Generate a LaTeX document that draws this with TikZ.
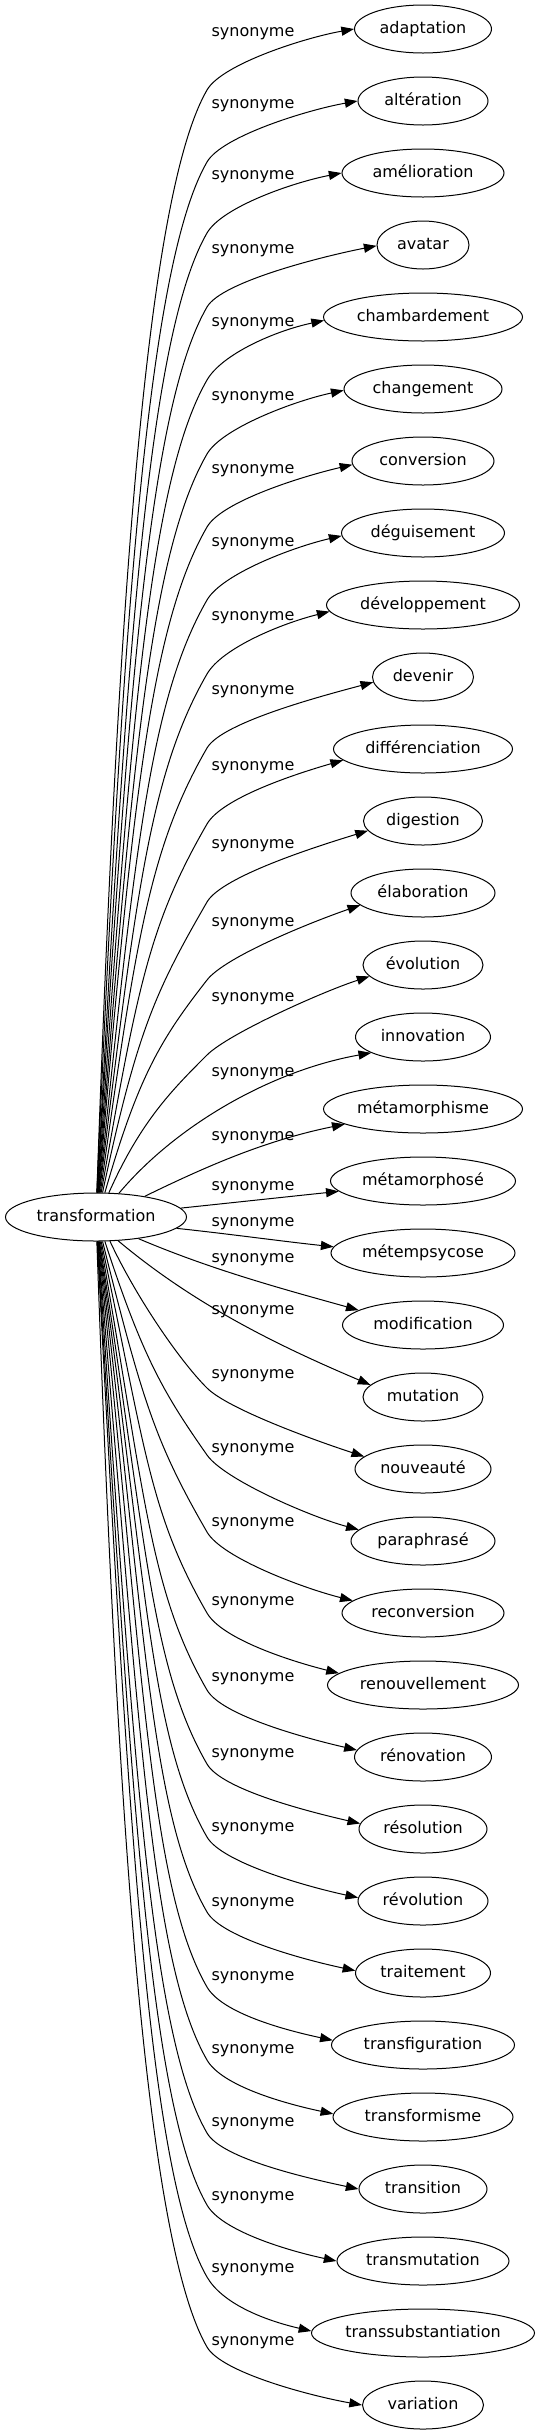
\documentclass[tikz,border=0pt]{standalone}
\usepackage{fontspec}
\setmainfont{DejaVu Sans}
\usetikzlibrary{arrows.meta,shapes.geometric}
\tikzset{
  txt/.style={font=\fontsize{12}{14}\selectfont, text height=8.8pt, text depth=2.6pt},
  ell/.style={txt, draw, ellipse, line width=0.75pt, minimum height=36pt, inner xsep=0pt, inner ysep=0pt},
  ew/.style={minimum width=#1*0.75pt},
  lab/.style={txt, inner sep=0pt},
  syn/.style={line width=0.75pt, -{Triangle[length=9.5pt,width=6.8pt]}}
}
% two-piece connector: target, start anchor, start angle, L1, elbow y, elbow angle, L2, end angle, end anchor
\newcommand\twoseg[9]{%
  \draw[syn] (tr.#2) .. controls +({#4*cos(#3)},{-#4*sin(#3)}) and +({-#7*cos(#6)},{#7*sin(#6)}) .. (207,#5)
    .. controls +({30*cos(#6)},{-30*sin(#6)}) and +({-50*cos(#8)},{50*sin(#8)}) .. (#1.#9);}
% one-piece connector: target, start anchor, start angle, L, end angle, L', end anchor
\newcommand\oneseg[7]{%
  \draw[syn] (tr.#2) .. controls +({#4*cos(#3)},{-#4*sin(#3)}) and +({-#6*cos(#5)},{#6*sin(#5)}) .. (#1.#7);}
\begin{document}
\begin{tikzpicture}[x=0.75pt,y=-0.75pt]
\useasboundingbox (0,0) rectangle (539,2435);
\fill[white] (0,0) rectangle (539,2435);

\node[ell, ew=181] (tr) at (96,1217) {transformation};

\node[ell, ew=137] (adaptation) at (423,29) {adaptation};
\node[ell, ew=130] (alteration) at (423,101) {altération};
\node[ell, ew=162] (amelioration) at (423,173) {amélioration};
\node[ell, ew=92] (avatar) at (423,245) {avatar};
\node[ell, ew=199] (chambardement) at (423,317) {chambardement};
\node[ell, ew=158] (changement) at (423,389) {changement};
\node[ell, ew=142] (conversion) at (423,461) {conversion};
\node[ell, ew=163] (deguisement) at (423,533) {déguisement};
\node[ell, ew=193] (developpement) at (423,605) {développement};
\node[ell, ew=101] (devenir) at (423,677) {devenir};
\node[ell, ew=179] (differenciation) at (423,749) {différenciation};
\node[ell, ew=119] (digestion) at (423,821) {digestion};
\node[ell, ew=144] (elaboration) at (423,893) {élaboration};
\node[ell, ew=120] (evolution) at (423,965) {évolution};
\node[ell, ew=135] (innovation) at (423,1037) {innovation};
\node[ell, ew=199] (metamorphisme) at (423,1109) {métamorphisme};
\node[ell, ew=185] (metamorphose) at (423,1181) {métamorphosé};
\node[ell, ew=184] (metempsycose) at (423,1253) {métempsycose};
\node[ell, ew=161] (modification) at (423,1325) {modification};
\node[ell, ew=120] (mutation) at (423,1397) {mutation};
\node[ell, ew=136] (nouveaute) at (423,1469) {nouveauté};
\node[ell, ew=144] (paraphrase) at (423,1541) {paraphrasé};
\node[ell, ew=162] (reconversion) at (423,1613) {reconversion};
\node[ell, ew=191] (renouvellement) at (423,1685) {renouvellement};
\node[ell, ew=137] (renovation) at (423,1757) {rénovation};
\node[ell, ew=128] (resolution) at (423,1829) {résolution};
\node[ell, ew=130] (revolution) at (423,1901) {révolution};
\node[ell, ew=135] (traitement) at (423,1973) {traitement};
\node[ell, ew=183] (transfiguration) at (423,2045) {transfiguration};
\node[ell, ew=180] (transformisme) at (423,2117) {transformisme};
\node[ell, ew=128] (transition) at (423,2189) {transition};
\node[ell, ew=172] (transmutation) at (423,2261) {transmutation};
\node[ell, ew=223] (transsubstantiation) at (423,2333) {transsubstantiation};
\node[ell, ew=121] (variation) at (423,2405) {variation};

\node[lab] (s0) at (253,32) {synonyme};
\node[lab] (s1) at (253,104) {synonyme};
\node[lab] (s2) at (253,175) {synonyme};
\node[lab] (s3) at (253,249) {synonyme};
\node[lab] (s4) at (253,322) {synonyme};
\node[lab] (s5) at (253,396) {synonyme};
\node[lab] (s6) at (253,469) {synonyme};
\node[lab] (s7) at (253,542) {synonyme};
\node[lab] (s8) at (253,616) {synonyme};
\node[lab] (s9) at (253,690) {synonyme};
\node[lab] (s10) at (253,766) {synonyme};
\node[lab] (s11) at (253,844) {synonyme};
\node[lab] (s12) at (253,922) {synonyme};
\node[lab] (s13) at (253,997) {synonyme};
\node[lab] (s14) at (253,1072) {synonyme};
\node[lab] (s15) at (253,1136) {synonyme};
\node[lab] (s16) at (253,1186) {synonyme};
\node[lab] (s17) at (253,1222) {synonyme};
\node[lab] (s18) at (253,1258) {synonyme};
\node[lab] (s19) at (253,1310) {synonyme};
\node[lab] (s20) at (253,1374) {synonyme};
\node[lab] (s21) at (253,1448) {synonyme};
\node[lab] (s22) at (253,1522) {synonyme};
\node[lab] (s23) at (253,1601) {synonyme};
\node[lab] (s24) at (253,1677) {synonyme};
\node[lab] (s25) at (253,1753) {synonyme};
\node[lab] (s26) at (253,1827) {synonyme};
\node[lab] (s27) at (253,1902) {synonyme};
\node[lab] (s28) at (253,1976) {synonyme};
\node[lab] (s29) at (253,2049) {synonyme};
\node[lab] (s30) at (253,2122) {synonyme};
\node[lab] (s31) at (253,2196) {synonyme};
\node[lab] (s32) at (253,2268) {synonyme};
\node[lab] (s33) at (253,2341) {synonyme};

\twoseg{adaptation}{88}{88}{629}{90}{60}{115}{10}{180}
\twoseg{alteration}{88}{87.5}{588}{162}{60}{115}{10}{180}
\twoseg{amelioration}{87}{87}{547}{233}{60}{115}{11}{180}
\twoseg{avatar}{87}{86.5}{505}{307}{60}{115}{11}{181}
\twoseg{chambardement}{86}{86}{463}{380}{60}{115}{12}{182}
\twoseg{changement}{85}{85.5}{421}{454}{60}{115}{12}{181}
\twoseg{conversion}{84}{85}{380}{527}{60}{115}{13}{183}
\twoseg{deguisement}{83}{84}{338}{600}{60}{115}{13}{182}
\twoseg{developpement}{82}{83}{296}{674}{60}{115}{14}{184}
\twoseg{devenir}{80}{82}{254}{748}{60}{115}{15}{186}
\twoseg{differenciation}{78}{80}{210}{824}{60}{115}{16}{188}
\twoseg{digestion}{75}{78}{166}{902}{60}{102}{17}{190}
\twoseg{elaboration}{70}{74}{121}{980}{52}{75}{19}{191}
\twoseg{evolution}{62}{66}{79}{1055}{45}{48}{18}{192}

\oneseg{innovation}{46}{50}{90}{10}{100}{197}
\oneseg{metamorphisme}{23}{26}{70}{11.5}{80}{191}
\oneseg{metamorphose}{6}{6}{50}{6}{50}{187}
\oneseg{metempsycose}{352}{-6}{50}{-6}{50}{176}
\oneseg{modification}{333}{-23}{80}{-15.6}{80}{167}
\oneseg{mutation}{313}{-40}{100}{-23}{100}{167}

\twoseg{nouveaute}{300}{-65}{60}{1388}{-45}{40}{-18}{168}
\twoseg{paraphrase}{290}{-72}{122}{1455}{-55}{75}{-15}{170}
\twoseg{reconversion}{285}{-76}{166}{1532}{-60}{102}{-14}{170}
\twoseg{renouvellement}{282}{-78}{212}{1613}{-60}{115}{-14}{172}
\twoseg{renovation}{280}{-80}{256}{1690}{-60}{115}{-13}{174}
\twoseg{resolution}{278}{-81}{298}{1764}{-60}{115}{-13}{175}
\twoseg{revolution}{277}{-82}{340}{1837}{-60}{115}{-12}{177}
\twoseg{traitement}{276}{-83}{382}{1912}{-60}{115}{-12}{178}
\twoseg{transfiguration}{275}{-84}{425}{1987}{-60}{115}{-12}{177}
\twoseg{transformisme}{274}{-85}{467}{2060}{-60}{115}{-12}{178}
\twoseg{transition}{274}{-86}{508}{2133}{-60}{115}{-12}{180}
\twoseg{transmutation}{273}{-86.5}{549}{2205}{-60}{115}{-12}{180}
\twoseg{transsubstantiation}{273}{-87}{591}{2277}{-60}{115}{-13}{179}
\twoseg{variation}{272}{-88}{630}{2347}{-60}{115}{-10}{180}
\end{tikzpicture}
\end{document}
